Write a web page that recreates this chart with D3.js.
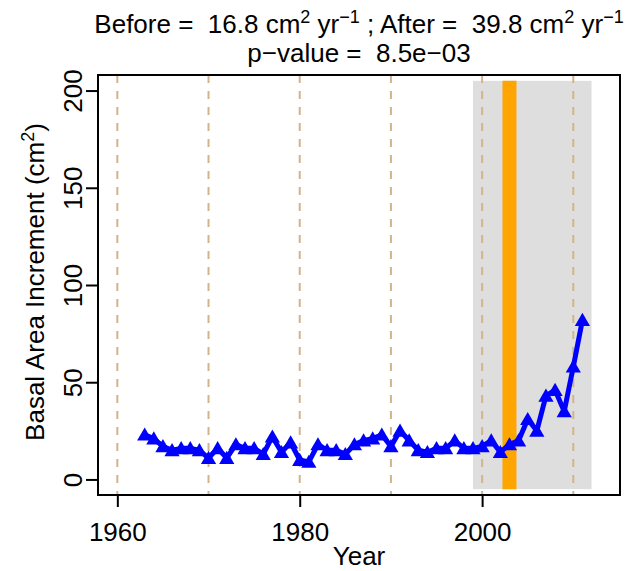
<!DOCTYPE html>
<html>
<head>
<meta charset="utf-8">
<script src="https://cdn.jsdelivr.net/npm/d3@7"></script>
<style>
  html, body { margin: 0; padding: 0; background: #fff; }
  svg { display: block; font-family: "Liberation Sans", Arial, Helvetica, sans-serif; }
  svg text { white-space: pre; }
</style>
</head>
<body>
<svg id="chart" width="630" height="571"></svg>
<script>
// Annual basal area increment of one tree
const years = d3.range(1963, 2012);
const bai = [
  23, 21, 17, 15, 16, 16, 15, 11, 16, 11,
  18, 16, 16, 13, 22, 14, 19, 10, 9, 18,
  15, 15, 13, 18, 20, 21, 23, 17, 25, 20,
  15, 14, 16, 16, 20, 16, 16, 17, 20, 14,
  18, 20, 31, 25, 43, 46, 35, 58, 82
];

const xTicks = [1960, 1980, 2000];
const yTicks = [0, 50, 100, 150, 200];
const gridYears = [1960, 1970, 1980, 1990, 2000, 2010];

// "after" window and the disturbance year
const windowYears = [1999, 2012];
const windowBai = [-5, 205];
const eventYear = 2003;

const beforeMean = "16.8", afterMean = "39.8", pValue = "8.5e\u221203";

const FS = 26, SUP = 18, RAISE = 10;

const svg = d3.select("#chart");
const box = { left: 98, right: 620, top: 75, bottom: 495 };

const x = d3.scaleLinear().domain([1957.88, 2015.12]).range([box.left, box.right]);
const y = d3.scaleLinear().domain([-8, 208]).range([box.bottom, box.top]);

// shaded window
svg.append("rect")
  .attr("x", x(windowYears[0])).attr("width", x(windowYears[1]) - x(windowYears[0]))
  .attr("y", y(windowBai[1])).attr("height", y(windowBai[0]) - y(windowBai[1]))
  .attr("fill", "#dedede");

// decade guides
svg.append("g").selectAll("line").data(gridYears).join("line")
  .attr("x1", d => x(d)).attr("x2", d => x(d))
  .attr("y1", box.top).attr("y2", box.bottom)
  .attr("stroke", "#d2b48c").attr("stroke-width", 2)
  .attr("stroke-dasharray", "8,8");

// event marker
svg.append("line")
  .attr("x1", x(eventYear)).attr("x2", x(eventYear))
  .attr("y1", y(windowBai[0])).attr("y2", y(windowBai[1]))
  .attr("stroke", "#ffa500").attr("stroke-width", 14);

// series line
const line = d3.line().x((d, i) => x(years[i])).y(d => y(d));
svg.append("path").datum(bai)
  .attr("d", line)
  .attr("fill", "none").attr("stroke", "#0000ff")
  .attr("stroke-width", 5).attr("stroke-linejoin", "round").attr("stroke-linecap", "round");

// filled triangles
const tri = d3.symbol().type(d3.symbolTriangle).size(100);
svg.append("g").selectAll("path").data(bai).join("path")
  .attr("d", tri)
  .attr("transform", (d, i) => `translate(${x(years[i])},${y(d) + 1.5})`)
  .attr("fill", "#0000ff");

// frame
svg.append("rect")
  .attr("x", box.left).attr("y", box.top)
  .attr("width", box.right - box.left).attr("height", box.bottom - box.top)
  .attr("fill", "none").attr("stroke", "#000").attr("stroke-width", 2);

// x axis
const xAxis = d3.axisBottom(x).tickValues(xTicks).tickFormat(d3.format("d")).tickSize(12).tickPadding(0);
const gx = svg.append("g").attr("transform", `translate(0,${box.bottom})`).call(xAxis);
gx.select(".domain").remove();
gx.selectAll(".tick line").attr("stroke", "#000").attr("stroke-width", 2);
gx.selectAll(".tick text").remove();
gx.selectAll(".tick").append("text")
  .attr("y", 46).attr("text-anchor", "middle")
  .attr("font-size", FS).attr("fill", "#000")
  .attr("font-family", "Liberation Sans, Arial, sans-serif")
  .text(d => d);

// y axis
const yAxis = d3.axisLeft(y).tickValues(yTicks).tickSize(12).tickPadding(0);
const gy = svg.append("g").attr("transform", `translate(${box.left},0)`).call(yAxis);
gy.select(".domain").remove();
gy.selectAll(".tick line").attr("stroke", "#000").attr("stroke-width", 2);
gy.selectAll(".tick text").remove();
gy.selectAll(".tick").append("text")
  .attr("transform", "translate(-16,0) rotate(-90)")
  .attr("text-anchor", "middle")
  .attr("font-size", FS).attr("fill", "#000")
  .attr("font-family", "Liberation Sans, Arial, sans-serif")
  .text(d => d);

// axis titles
svg.append("text")
  .attr("x", (box.left + box.right) / 2).attr("y", 565)
  .attr("text-anchor", "middle").attr("font-size", FS)
  .text("Year");

const yl = svg.append("text")
  .attr("transform", `translate(44,${(box.top + box.bottom) / 2 - 3}) rotate(-90)`)
  .attr("text-anchor", "middle").attr("font-size", FS);
yl.append("tspan").text("Basal Area Increment (cm");
yl.append("tspan").attr("font-size", SUP).attr("dy", -RAISE).text("2");
yl.append("tspan").attr("dy", RAISE).text(")");

// title
const cx = (box.left + box.right) / 2;
const t1 = svg.append("text").attr("x", cx).attr("y", 33)
  .attr("text-anchor", "middle").attr("font-size", FS);
t1.append("tspan").text(`Before =  ${beforeMean} cm`);
t1.append("tspan").attr("font-size", SUP).attr("dy", -RAISE).text("2");
t1.append("tspan").attr("dy", RAISE).text(" yr");
t1.append("tspan").attr("font-size", SUP).attr("dy", -RAISE).text("\u22121");
t1.append("tspan").attr("dy", RAISE).text(` ; After =  ${afterMean} cm`);
t1.append("tspan").attr("font-size", SUP).attr("dy", -RAISE).text("2");
t1.append("tspan").attr("dy", RAISE).text(" yr");
t1.append("tspan").attr("font-size", SUP).attr("dy", -RAISE).text("\u22121");

svg.append("text").attr("x", cx).attr("y", 62)
  .attr("text-anchor", "middle").attr("font-size", FS)
  .text(`p\u2212value =  ${pValue}`);
</script>
</body>
</html>
